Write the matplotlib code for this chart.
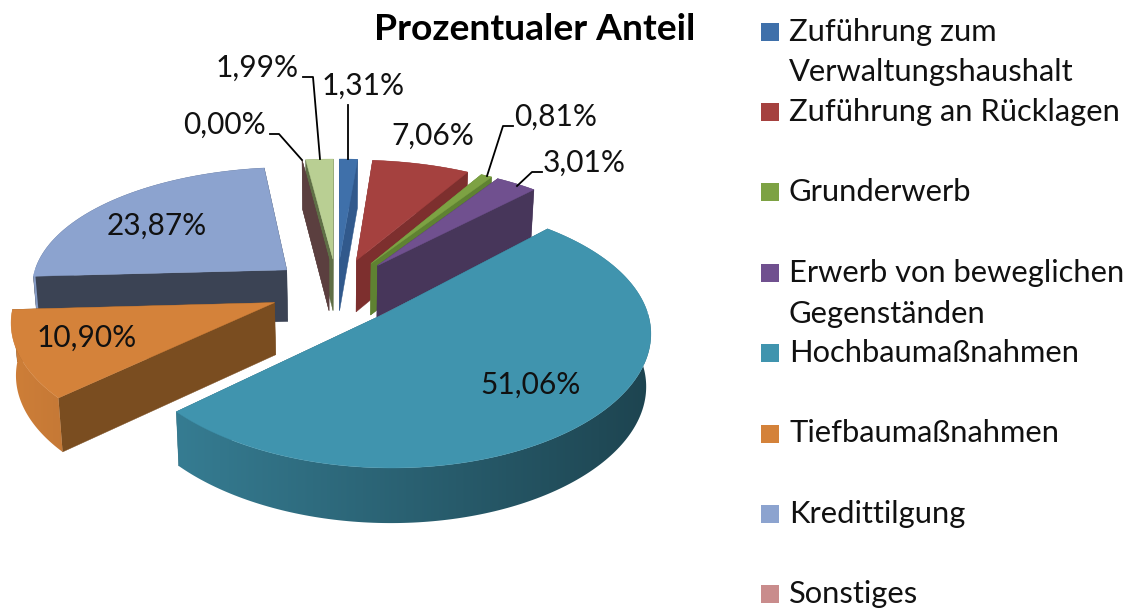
import numpy as np
import matplotlib
matplotlib.use("Agg")
import matplotlib.pyplot as plt
from matplotlib.patches import Polygon, Rectangle

plt.rcParams['font.family'] = ['Lato', 'DejaVu Sans']

# slices, clockwise from 12 o'clock
values = [1.31, 7.06, 0.81, 3.01, 51.06, 10.90, 23.87, 0.00, 1.99]
labels = ['1,31%', '7,06%', '0,81%', '3,01%', '51,06%', '10,90%', '23,87%', '0,00%', '1,99%']
top_colors = ['#3f70aa', '#a5413f', '#7da243', '#70508f', '#4094ae', '#d4823a', '#8ca3cf', '#c98c8c', '#b9cf93']
wall_colors = ['#31598c', '#7d2f2e', '#5f8232', '#47365a', '#2a6578', '#7a4d20', '#3b4354', '#5b3f3f', '#5f6f46']
legend_names = ['Zuführung zum\nVerwaltungshaushalt', 'Zuführung an Rücklagen', 'Grunderwerb',
                'Erwerb von beweglichen\nGegenständen', 'Hochbaumaßnahmen', 'Tiefbaumaßnahmen',
                'Kredittilgung', 'Sonstiges']

label_xy = [(363, 86), (433, 136), (556, 117), (584, 163), (531, 385), (87, 338), (157, 226), (224, 125), (257, 68)]
leaders = [[(348, 105), (348, 159)],
           [(513, 126), (503, 126), (487, 176)],
           [(542, 172), (532, 172), (517, 186)],
           [(270, 134), (279, 134), (302, 160)],
           [(303, 77), (313, 77), (320, 159)]]

# drawing order, back to front
draw_order = [8, 7, 0, 1, 2, 3, 6, 5, 4]

x0, y0 = 337, 290
rx, ry = 257, 123.5
persp_x, persp_y = 0.125, 0.149
explode = 0.26
depth = 52


def project(u, v):
    wy = 1 + persp_y * v
    return x0 + rx * u / (1 + persp_x * v), y0 - ry * v / wy, depth / wy ** 0.3


def bottom(x, y, d):
    # lower face sits slightly closer to the middle
    return x0 + (x - x0) * 0.985, y + d


def rim_poly(xs, ys, ds):
    bx, by = bottom(xs, ys, ds)
    return np.column_stack([np.r_[xs, bx[::-1]], np.r_[ys, by[::-1]]])


fig = plt.figure(figsize=(11.39, 6.12), dpi=100)
ax = fig.add_axes([0, 0, 1, 1])

edges = np.concatenate([[0], np.cumsum(values)]) / sum(values) * 2 * np.pi

for n, i in enumerate(draw_order):
    z = n + 1
    t1, t2 = edges[i], edges[i + 1]
    mid = (t1 + t2) / 2
    cu, cv = explode * np.sin(mid), explode * np.cos(mid)
    ts = np.linspace(t1, t2, max(2, int((t2 - t1) * 60)))
    xs, ys, ds = project(cu + np.sin(ts), cv + np.cos(ts))
    tx, ty, td = project(cu, cv)
    tbx, tby = bottom(tx, ty, td)

    # back part of the rim goes under the walls, front part over them
    back = np.cos(ts) >= 0
    front = ~back
    if back.sum() > 1:
        ax.add_patch(Polygon(rim_poly(xs[back], ys[back], ds[back]), fc=wall_colors[i], ec='none', zorder=z))
    for xe, ye, de in [(xs[0], ys[0], ds[0]), (xs[-1], ys[-1], ds[-1])]:
        bxe, bye = bottom(xe, ye, de)
        ax.add_patch(Polygon([(tx, ty), (xe, ye), (bxe, bye), (tbx, tby)],
                             fc=wall_colors[i], ec=wall_colors[i], lw=0.3, zorder=z + 0.1))
    if front.sum() > 1:
        # front rim: horizontal gradient, darker towards the right
        clip = Polygon(rim_poly(xs[front], ys[front], ds[front]), fc='none', ec='none', transform=ax.transData)
        ax.add_patch(clip)
        rgb = np.array(matplotlib.colors.to_rgb(top_colors[i]))
        ramp = np.linspace(0.98, 0.42, 256)
        grad = (rgb[None, None, :] * ramp[None, :, None]).clip(0, 1)
        im = ax.imshow(grad, extent=[0, 700, 612, 0], aspect='auto', zorder=z + 0.2,
                       interpolation='bilinear')
        im.set_clip_path(clip)
    if values[i] > 0:
        ax.add_patch(Polygon(np.column_stack([np.r_[tx, xs], np.r_[ty, ys]]),
                             fc=top_colors[i], ec=top_colors[i], lw=0.3, zorder=z + 0.3))

ax.set_xlim(0, 1139)
ax.set_ylim(612, 0)
ax.axis('off')

for name, (x, y) in zip(labels, label_xy):
    ax.text(x, y, name, fontsize=21.5, ha='center', va='center', color='#111111', zorder=20)

for pts in leaders:
    ax.plot(*zip(*pts), color='black', lw=1.3, zorder=19)

ax.text(535, 29, 'Prozentualer Anteil', fontsize=26.8, fontweight='bold', ha='center', va='center', color='black')

# legend
row_h = 80.4
for j, name in enumerate(legend_names):
    y = 31.5 + j * row_h
    ax.add_patch(Rectangle((761, y - 9), 18, 18, fc=top_colors[j], ec='none'))
    ax.text(789, y, name.split('\n')[0], fontsize=22.2, va='center', ha='left', color='#111111')
    if '\n' in name:
        ax.text(789, y + 41, name.split('\n')[1], fontsize=22.2, va='center', ha='left', color='#111111')

fig.savefig('out.png', dpi=100)
